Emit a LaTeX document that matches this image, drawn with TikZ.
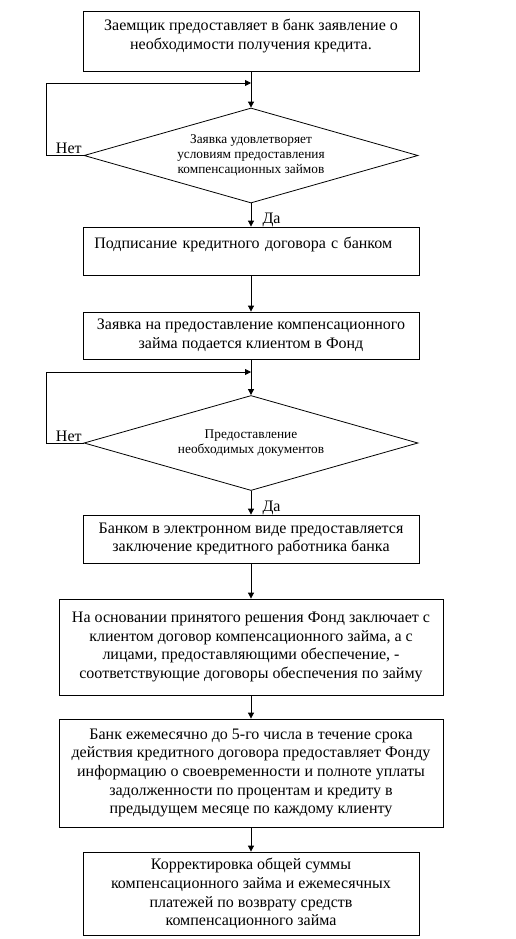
\documentclass[tikz,border=0pt]{standalone}
\usepackage{fontspec}
\setmainfont{Liberation Serif}
\usetikzlibrary{shapes.geometric,arrows.meta}
\newcommand{\lowpad}[1]{\rule[-#1]{0pt}{0pt}}

\begin{document}
\begin{tikzpicture}[x=0.75pt, y=-0.75pt, line width=0.6pt,
		flow/.style={draw, -{Triangle[length=4.5pt,width=4.5pt]}},
		block/.style={shape=rectangle, draw, align=center, minimum width=252pt,
	font=\fontsize{12}{14}\selectfont},
		wideblock/.style={block, minimum width=288pt},
		cond/.style={shape=diamond, draw, aspect=3.5, inner sep=0pt, align=center,
	minimum width=250.5pt, minimum height=71.25pt, font=\fontsize{10}{11.25}\selectfont},
		answer/.style={font=\fontsize{12}{14}\selectfont}]
	\useasboundingbox (0,0) rectangle (516,939);
	\node[block, minimum height=45pt] (request) at (251,41)
		{Заемщик предоставляет в банк заявление о\\необходимости получения кредита.\lowpad{10pt}};
	\node[cond] (check) at (251,155.5)
		{Заявка удовлетворяет\\условиям предоставления\\компенсационных займов};
	\node[block, minimum height=36pt, align=left, text width=235pt, inner xsep=8.25pt] (contract) at (251,251)
		{Подписание кредитного договора с банком\lowpad{12pt}};
	\node[block, minimum height=35.25pt] (application) at (251,335.5)
		{Заявка на предоставление компенсационного\\займа подается клиентом в Фонд};
	\node[cond] (documents) at (251,443)
		{Предоставление\\необходимых документов};
	\node[block, minimum height=36pt] (opinion) at (251,539)
		{Банком в электронном виде предоставляется\\заключение кредитного работника банка};
	\node[wideblock, minimum height=72pt] (agreement) at (251,647)
		{На основании принятого решения Фонд заключает с\\клиентом договор компенсационного займа, а с\\лицами, предоставляющими обеспечение, -\\соответствующие договоры обеспечения по займу};
	\node[wideblock, minimum height=81pt] (report) at (251,773)
		{Банк ежемесячно до 5-го числа в течение срока\\действия кредитного договора предоставляет Фонду\\информацию о своевременности и полноте уплаты\\задолженности по процентам и кредиту в\\предыдущем месяце по каждому клиенту};
	\node[block, minimum height=62.25pt] (adjust) at (251,893.5)
		{Корректировка общей суммы\\компенсационного займа и ежемесячных\\платежей по возврату средств\\компенсационного займа};
	\coordinate (join1) at (251,83);
	\coordinate (join2) at (251,372);
	\draw[flow] (request) -- (check);
	\draw[flow] (check.west) -- node[answer, pos=0.4, above, inner sep=1pt] {Нет} ++(-37,0) |- (join1);
	\draw[flow] (check) -- node[answer, pos=0.7, right, xshift=5pt] {Да} (contract);
	\draw[flow] (contract) -- (application);
	\draw[flow] (application) -- (documents);
	\draw[flow] (documents.west) -- node[answer, pos=0.4, above, inner sep=1pt] {Нет} ++(-37,0) |- (join2);
	\draw[flow] (documents) -- node[answer, pos=0.7, right, xshift=5pt] {Да} (opinion);
	\draw[flow] (opinion) -- (agreement);
	\draw[flow] (agreement) -- (report);
	\draw[flow] (report) -- (adjust);
\end{tikzpicture}
\end{document}
